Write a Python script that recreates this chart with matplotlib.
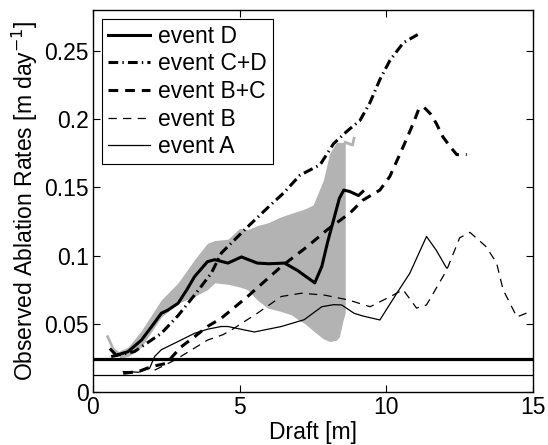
import numpy as np
import matplotlib
matplotlib.use('Agg')
import matplotlib.pyplot as plt

plt.rcParams['font.family'] = ['Liberation Sans', 'DejaVu Sans']
plt.rcParams['lines.scale_dashes'] = False

# --- data ---
# event D (thick solid)
d_x = [0.61, 0.79, 1.19, 1.65, 2.0, 2.33, 2.55, 2.9, 3.2, 3.46, 3.9, 4.15, 4.6, 5.06,
       5.6, 6.0, 6.53, 6.98, 7.3, 7.56, 7.8, 8.0, 8.2, 8.4, 8.55, 8.75, 9.05, 9.2]
d_y = [0.031, 0.027, 0.0295, 0.038, 0.048, 0.0577, 0.060, 0.065, 0.075, 0.0845, 0.0955,
       0.097, 0.0945, 0.099, 0.0945, 0.094, 0.0945, 0.089, 0.084, 0.080, 0.092, 0.110,
       0.126, 0.142, 0.148, 0.147, 0.144, 0.147]

# event C+D (dash-dot)
cd_x = [0.62, 1.41, 2.33, 2.9, 3.46, 4.03, 4.38, 5.27, 6.0, 6.49, 7.06, 7.74, 8.2, 8.65,
        9.1, 9.44, 9.78, 10.12, 10.58, 11.07]
cd_y = [0.026, 0.0296, 0.043, 0.056, 0.071, 0.087, 0.102, 0.121, 0.136, 0.1457, 0.159,
        0.1665, 0.182, 0.191, 0.199, 0.212, 0.229, 0.243, 0.256, 0.262]

# event B+C (thick dashed)
bc_x = [1.03, 1.55, 1.99, 2.5, 3.0, 3.46, 3.9, 4.37, 5.27, 6.42, 7.3, 7.99, 8.75, 9.2,
        9.78, 10.12, 10.58, 10.92, 11.1, 11.27, 11.5, 11.7, 11.93, 12.17, 12.4, 12.74]
bc_y = [0.0137, 0.015, 0.0186, 0.021, 0.033, 0.0405, 0.048, 0.054, 0.070, 0.092, 0.1065,
        0.119, 0.131, 0.1406, 0.148, 0.158, 0.180, 0.197, 0.207, 0.209, 0.204, 0.197,
        0.187, 0.180, 0.174, 0.174]

# event B (thin dashed)
b_x = [2.1, 2.8, 3.37, 3.9, 4.43, 4.72, 5.6, 6.42, 7.1, 7.9, 8.7, 9.45, 10.23, 10.57,
       11.03, 11.37, 12.05, 12.5, 12.85, 13.4, 13.76, 13.98, 14.45, 14.8]
b_y = [0.016, 0.0235, 0.031, 0.038, 0.042, 0.0455, 0.0577, 0.070, 0.0724, 0.071, 0.0675,
       0.0625, 0.071, 0.075, 0.0615, 0.0638, 0.089, 0.113, 0.117, 0.1066, 0.0945, 0.075,
       0.055, 0.058]

# event A (thin solid)
a_x = [1.03, 1.55, 1.93, 2.1, 2.33, 2.9, 3.46, 3.9, 4.37, 4.6, 5.5, 6.42, 7.2, 7.8,
       8.2, 8.48, 8.9, 9.2, 9.78, 10.36, 10.8, 11.37, 11.7, 12.05]
a_y = [0.015, 0.0145, 0.0174, 0.026, 0.031, 0.037, 0.043, 0.046, 0.048, 0.048, 0.044,
       0.048, 0.053, 0.0625, 0.064, 0.0638, 0.0577, 0.0557, 0.0528, 0.0725, 0.087, 0.114,
       0.104, 0.091]

# grey uncertainty band around event D
band_x = [0.9, 1.2, 1.65, 2.33, 2.9, 3.46, 3.9, 4.15, 4.6, 5.0, 5.27, 5.6, 5.96, 6.42,
          6.77, 7.06, 7.2, 7.5, 7.85, 8.07, 8.3, 8.4, 8.53, 8.6]
band_lo = [0.025, 0.026, 0.033, 0.055, 0.065, 0.070, 0.075, 0.080, 0.079, 0.077, 0.075,
           0.0675, 0.0615, 0.059, 0.0565, 0.052, 0.0505, 0.045, 0.039, 0.037, 0.038,
           0.0405, 0.053, 0.058]
band_hi = [0.030, 0.033, 0.045, 0.0675, 0.080, 0.097, 0.109, 0.111, 0.112, 0.120, 0.119,
           0.122, 0.124, 0.1285, 0.131, 0.133, 0.134, 0.137, 0.155, 0.175, 0.183, 0.183,
           0.183, 0.183]
# grey tails of the band curve
tail0_x = [0.5, 0.7, 0.9]
tail0_y = [0.0405, 0.031, 0.028]
tail1_x = [8.6, 8.85, 8.9]
tail1_y = [0.183, 0.181, 0.186]

# detection thresholds
thr_thick = 0.0242
thr_thin = 0.0125

xticks = [0, 5, 10, 15]
yticks = [0, 0.05, 0.1, 0.15, 0.2, 0.25]
ytick_labels = ['0', '0.05', '0.1', '0.15', '0.2', '0.25']

# --- figure ---
fig = plt.figure(figsize=(5.48, 4.45), dpi=100)
ax = fig.add_axes([0.1697, 0.1191, 0.8029, 0.8584])

grey = '#b3b3b3'
ax.fill_between(band_x, band_lo, band_hi, color=grey, lw=0)
ax.plot(tail0_x, tail0_y, color=grey, lw=2)
ax.plot(tail1_x, tail1_y, color=grey, lw=2)

ax.axhline(thr_thick, color='k', lw=2.3)
ax.axhline(thr_thin, color='k', lw=0.9)

ax.plot(d_x, d_y, color='k', lw=2.2, label='event D')
ax.plot(cd_x, cd_y, color='k', lw=2.2, dashes=(7, 3, 1, 3), label='event C+D')
ax.plot(bc_x, bc_y, color='k', lw=2.2, dashes=(7, 5), label='event B+C')
ax.plot(b_x, b_y, color='k', lw=0.9, dashes=(6, 4.5), label='event B')
ax.plot(a_x, a_y, color='k', lw=0.9, label='event A')

ax.set_xlim(0, 15)
ax.set_ylim(0, 0.28)
ax.set_xticks(xticks)
ax.set_yticks(yticks)
ax.set_yticklabels(ytick_labels)
ax.tick_params(direction='in', top=True, right=True, labelsize=16.5, length=5, width=0.8)
ax.tick_params(axis='x', pad=3)
ax.tick_params(axis='y', pad=3)
for s in ax.spines.values():
    s.set_linewidth(1.0)

ax.set_xlabel('Draft [m]', fontsize=16.5, labelpad=1)
ax.set_ylabel('Observed Ablation Rates [m day$^{-1}$]', fontsize=16.5, labelpad=3)

leg = ax.legend(loc='upper left', fontsize=16.5, frameon=True, fancybox=False,
                edgecolor='k', framealpha=1, handlelength=1.85, handletextpad=0.35,
                borderpad=0.25, labelspacing=0.2, borderaxespad=0.4)
leg.get_frame().set_linewidth(0.8)

fig.savefig('out.png', dpi=100)
